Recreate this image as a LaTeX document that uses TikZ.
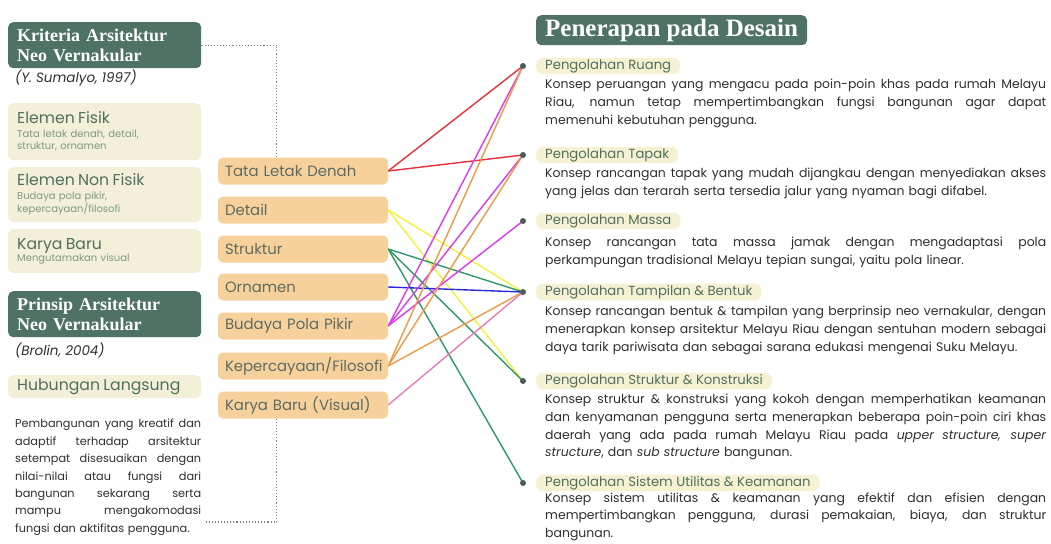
\documentclass[tikz,border=0pt]{standalone}
\usepackage{fontspec}
\setmainfont{Poppins}
\newfontfamily\serifb{Liberation Serif}
\usetikzlibrary{backgrounds}
\definecolor{dkg}{HTML}{4E7264}
\definecolor{crm}{HTML}{F3EFD8}
\definecolor{hcrm}{HTML}{F6F1D2}
\definecolor{org}{HTML}{F6D19C}
\definecolor{ttl}{HTML}{4F7060}
\definecolor{sub}{HTML}{7E9A82}
\definecolor{midt}{HTML}{5E6B62}
\definecolor{bodyc}{HTML}{2E2E2E}
\definecolor{dotc}{HTML}{4D5C5A}
\definecolor{lred}{HTML}{E6303C}
\definecolor{lyel}{HTML}{F2F23A}
\definecolor{lgrn}{HTML}{2E9868}
\definecolor{lblu}{HTML}{2828D8}
\definecolor{lmag}{HTML}{E038EE}
\definecolor{lorg}{HTML}{EE9A44}
\definecolor{lpnk}{HTML}{E87CB8}
\newcommand\jl[2]{\leavevmode\hbox to #1{\spaceskip=\fontdimen2\font plus 1fil\relax\xspaceskip=\spaceskip #2}}
\begin{document}
\begin{tikzpicture}[x=1pt,y=-1pt,
  darkbox/.style={fill=dkg, rounded corners=5pt, text=white, font=\serifb\bfseries\fontsize{18}{20}\selectfont, align=left, text width=175pt, inner xsep=9pt, minimum height=46pt, anchor=north west},
  citef/.style={font=\itshape\fontsize{13.5}{15}\selectfont, text=bodyc, anchor=west, inner sep=0pt},
  creambox/.style={fill=crm, rounded corners=6pt, text width=175pt, inner xsep=9pt, align=left, anchor=north west, text=ttl},
  midbox/.style={fill=org, rounded corners=5pt, minimum width=170pt, minimum height=27pt, text width=156pt, inner xsep=7pt, align=left, text=midt, font=\fontsize{14.9}{16}\selectfont},
  dot/.style={circle, fill=dotc, inner sep=0pt, minimum size=6pt},
  headbox/.style={fill=hcrm, rounded corners=7pt, text=ttl, font=\fontsize{13.2}{15}\selectfont, anchor=west, inner xsep=9pt, inner ysep=1.5pt},
  body/.style={text=bodyc, font=\fontsize{12.45}{17.7}\selectfont, align=left, text width=501pt, inner sep=0pt, anchor=north west},
  conn/.style={line width=1.4pt},
  dotline/.style={draw=gray, line width=1.1pt, dotted}
]
\useasboundingbox (0,0) rectangle (1051,543);

% ---- left column ----
\node[darkbox] (k1) at (8,22) {Kriteria Arsitektur\\Neo Vernakular};
\node[citef] (c1) at (15,78) {(Y. Sumalyo, 1997)};

\node[creambox, minimum height=57pt] (e1) at (8,103) {{\fontsize{15.7}{17}\selectfont Elemen Fisik}\\[0.5pt]{\color{sub}\fontsize{10}{13.5}\selectfont Tata letak denah, detail,\\struktur, ornamen}};
\node[creambox, minimum height=55pt] (e2) at (8,167) {{\fontsize{15.7}{17}\selectfont Elemen Non Fisik}\\[0.5pt]{\color{sub}\fontsize{10}{13.5}\selectfont Budaya pola pikir,\\kepercayaan/filosofi}};
\node[creambox, minimum height=44pt] (e3) at (8,229) {{\fontsize{15.7}{17}\selectfont Karya Baru}\\[0.5pt]{\color{sub}\fontsize{10}{13.5}\selectfont Mengutamakan visual}};

\node[darkbox] (k2) at (8,291) {Prinsip Arsitektur\\Neo Vernakular};
\node[citef] (c2) at (15,350) {(Brolin, 2004)};

\node[creambox, minimum height=23pt] (e4) at (8,375) {{\fontsize{15.7}{17}\selectfont Hubungan Langsung}};

\node[text=bodyc, font=\fontsize{11.3}{17.4}\selectfont, align=left, text width=186pt, inner sep=0pt, anchor=north west] (p1) at (15,419) {%
\jl{186pt}{Pembangunan yang kreatif dan}\\
\jl{186pt}{adaptif terhadap arsitektur}\\
\jl{186pt}{setempat disesuaikan dengan}\\
\jl{186pt}{nilai-nilai atau fungsi dari}\\
\jl{186pt}{bangunan sekarang serta}\\
\jl{186pt}{mampu mengakomodasi}\\
fungsi dan aktifitas pengguna.};
\coordinate (pend) at (206,522);

% ---- middle column ----
\node[midbox] (m1) at (303,171) {Tata Letak Denah};
\node[midbox] (m2) at (303,210) {Detail};
\node[midbox] (m3) at (303,249) {Struktur};
\node[midbox] (m4) at (303,287) {Ornamen};
\node[midbox] (m5) at (303,326) {Budaya Pola Pikir};
\node[midbox] (m6) at (303,366) {Kepercayaan/Filosofi};
\node[midbox] (m7) at (303,405) {Karya Baru (Visual)};

\draw[dotline] (k1.east) -| ([xshift=59pt]m1.north west);
\draw[dotline] ([xshift=59pt]m7.south west) |- (pend);

% ---- right column ----
\node[fill=dkg, rounded corners=5pt, text=white, font=\serifb\bfseries\fontsize{25}{26}\selectfont, anchor=north west, inner xsep=9pt, inner ysep=0pt, minimum height=30pt] (t1) at (536,15) {Penerapan pada Desain};

\node[dot] (r1) at (523,66) {};
\node[dot] (r2) at (523,155) {};
\node[dot] (r3) at (523,221) {};
\node[dot] (r4) at (523,292) {};
\node[dot] (r5) at (523,381) {};
\node[dot] (r6) at (523,483) {};

\node[headbox] (h1) at (536,66) {Pengolahan Ruang};
\node[headbox] (h2) at (536,155) {Pengolahan Tapak};
\node[headbox] (h3) at (536,221) {Pengolahan Massa};
\node[headbox] (h4) at (536,292) {Pengolahan Tampilan \& Bentuk};
\node[headbox] (h5) at (536,381) {Pengolahan Struktur \& Konstruksi};
\node[headbox] (h6) at (536,483) {Pengolahan Sistem Utilitas \& Keamanan};

\node[body] (b1) at (545,79) {%
\jl{501pt}{Konsep peruangan yang mengacu pada poin-poin khas pada rumah Melayu}\\
\jl{501pt}{Riau, namun tetap mempertimbangkan fungsi bangunan agar dapat}\\
memenuhi kebutuhan pengguna.};
\node[body] (b2) at (545,168) {%
\jl{501pt}{Konsep rancangan tapak yang mudah dijangkau dengan menyediakan akses}\\
yang jelas dan terarah serta tersedia jalur yang nyaman bagi difabel.};
\node[body] (b3) at (545,237) {%
\jl{501pt}{Konsep rancangan tata massa jamak dengan mengadaptasi pola}\\
perkampungan tradisional Melayu tepian sungai, yaitu pola linear.};
\node[body] (b4) at (545,306) {%
\jl{501pt}{Konsep rancangan bentuk \& tampilan yang berprinsip neo vernakular, dengan}\\
\jl{501pt}{menerapkan konsep arsitektur Melayu Riau dengan sentuhan modern sebagai}\\
daya tarik pariwisata dan sebagai sarana edukasi mengenai Suku Melayu.};
\node[body] (b5) at (545,394) {%
\jl{501pt}{Konsep struktur \& konstruksi yang kokoh dengan memperhatikan keamanan}\\
\jl{501pt}{dan kenyamanan pengguna serta menerapkan beberapa poin-poin ciri khas}\\
\jl{501pt}{daerah yang ada pada rumah Melayu Riau pada \textit{upper structure, super}}\\
\textit{structure}, dan \textit{sub structure} bangunan.};
\node[body, font=\fontsize{12.45}{17.2}\selectfont] (b6) at (545,493) {%
\jl{501pt}{Konsep sistem utilitas \& keamanan yang efektif dan efisien dengan}\\
\jl{501pt}{mempertimbangkan pengguna, durasi pemakaian, biaya, dan struktur}\\
bangunan.};

% ---- connectors ----
\begin{scope}[on background layer]
\draw[conn, lred] (m1.east) -- (r1.center);
\draw[conn, lred] (m1.east) -- (r2.center);
\draw[conn, lyel] (m2.east) -- (r4.center);
\draw[conn, lyel] (m2.east) -- (r5.center);
\draw[conn, lgrn] (m3.east) -- (r4.center);
\draw[conn, lgrn] (m3.east) -- (r5.center);
\draw[conn, lgrn] (m3.east) -- (r6.center);
\draw[conn, lblu] (m4.east) -- (r4.center);
\draw[conn, lmag] (m5.east) -- (r1.center);
\draw[conn, lmag] (m5.east) -- (r2.center);
\draw[conn, lmag] (m5.east) -- (r3.center);
\draw[conn, lorg] (m6.east) -- (r1.center);
\draw[conn, lorg] (m6.east) -- (r2.center);
\draw[conn, lorg] (m6.east) -- (r4.center);
\draw[conn, lpnk] (m7.east) -- (r4.center);
\end{scope}
\end{tikzpicture}
\end{document}
